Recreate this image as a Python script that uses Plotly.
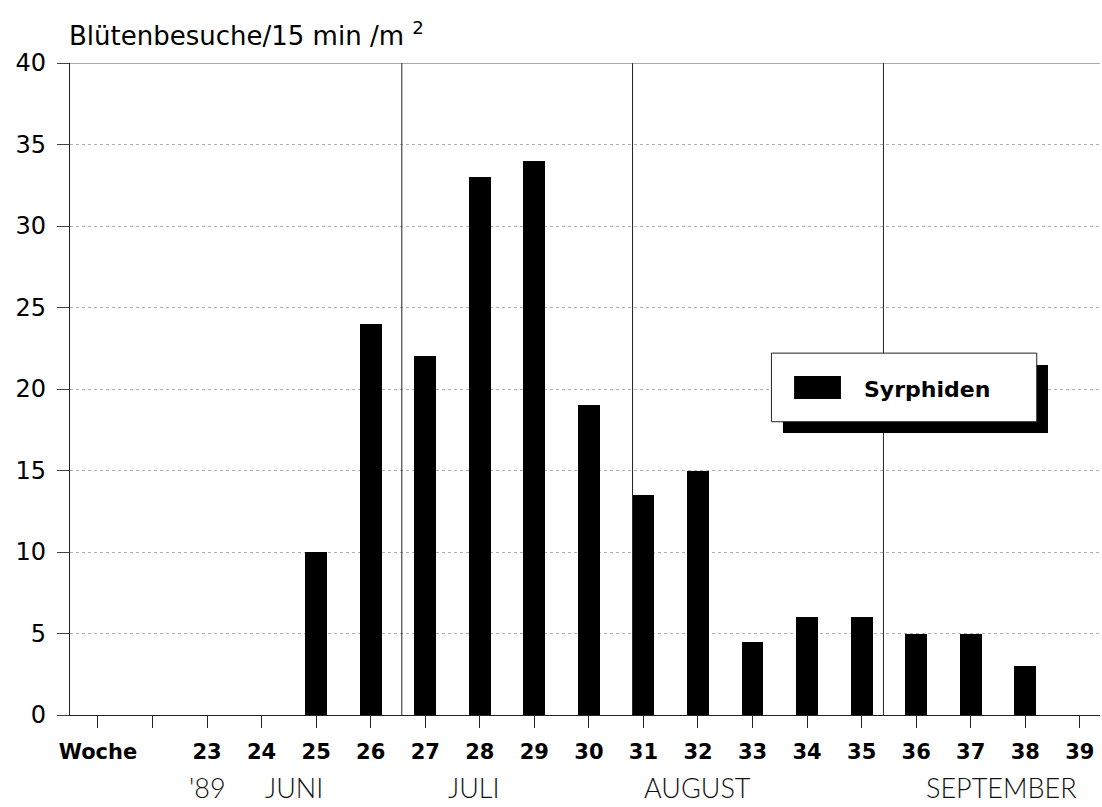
import plotly.graph_objects as go

# --- data ---
weeks = [25, 26, 27, 28, 29, 30, 31, 32, 33, 34, 35, 36, 37, 38]
syrphiden = [10, 24, 22, 33, 34, 19, 13.5, 15, 4.5, 6, 6, 5, 5, 3]
label_weeks = [21] + list(range(23, 40))
tick_labels = ["Woche"] + [str(w) for w in range(23, 40)]
month_bounds = [26.57, 30.8, 35.4]          # 1. Juli, 1. August, 1. September
month_names = ["'89", "JUNI", "JULI", "AUGUST", "SEPTEMBER"]
month_pos = [23.0, 24.6, 27.9, 32.0, 37.57]
y_ticks = list(range(0, 45, 5))

FONT = "DejaVu Sans"

fig = go.Figure()
fig.add_trace(go.Bar(
    x=weeks, y=syrphiden, width=0.4, name="Syrphiden",
    marker=dict(color="black", line=dict(width=0)),
    showlegend=False,
))

shapes = []
for b in month_bounds:
    shapes.append(dict(type="line", xref="x", yref="paper", x0=b, x1=b, y0=0, y1=1,
                       line=dict(color="#222", width=1)))
# top line at 40
shapes.append(dict(type="line", xref="paper", yref="y", x0=0, x1=1, y0=40, y1=40,
                   line=dict(color="#555", width=1.2)))
# legend shadow + box + sample
shapes.append(dict(type="rect", xref="paper", yref="paper", x0=0.6922, x1=0.9495,
                   y0=0.4325, y1=0.5368, fillcolor="black", line=dict(width=0)))
shapes.append(dict(type="rect", xref="paper", yref="paper", x0=0.681, x1=0.9386,
                   y0=0.4498, y1=0.555, fillcolor="white", line=dict(color="#222", width=1)))
shapes.append(dict(type="rect", xref="paper", yref="paper", x0=0.703, x1=0.7485,
                   y0=0.4847, y1=0.52, fillcolor="black", line=dict(width=0)))

annotations = [
    dict(text="Blütenbesuche/15 min /m <sup>2</sup>", xref="paper", yref="paper",
         x=-0.003, y=1.044, xanchor="left", yanchor="middle", showarrow=False,
         font=dict(family=FONT, size=26, color="black")),
    dict(text="Syrphiden", xref="paper", yref="paper", x=0.769, y=0.4985,
         xanchor="left", yanchor="middle", showarrow=False,
         font=dict(family=FONT, size=22, color="black", weight="bold")),
]
for name, pos in zip(month_names, month_pos):
    annotations.append(dict(text=name, xref="x", yref="paper", x=pos, y=-0.111,
                            xanchor="center", yanchor="middle", showarrow=False,
                            font=dict(family="Lato", size=27, color="#111", weight=300)))

fig.update_layout(
    width=1102, height=807,
    margin=dict(l=70, r=2, t=63, b=92),
    paper_bgcolor="white", plot_bgcolor="white",
    shapes=shapes, annotations=annotations,
    bargap=0,
    xaxis=dict(range=[20.487, 39.37], tickmode="array", tickvals=label_weeks,
               ticktext=tick_labels, ticks="outside", ticklen=12, tickcolor="#222",
               tickwidth=1, showline=True, linecolor="#222", linewidth=1.2,
               showgrid=False, zeroline=False, ticklabelstandoff=6,
               minor=dict(tickmode="array", tickvals=list(range(21, 40)),
                          ticks="outside", ticklen=12, tickcolor="#222", tickwidth=1,
                          showgrid=False),
               tickfont=dict(family=FONT, size=21, color="black", weight="bold")),
    yaxis=dict(range=[0, 40], tickmode="array", tickvals=y_ticks,
               ticks="outside", ticklen=12, tickcolor="#444", tickwidth=1,
               showline=True, linecolor="#222", linewidth=1.2,
               showgrid=True, gridcolor="#b0b0b0", gridwidth=1, griddash="dot",
               zeroline=False, ticklabelstandoff=6,
               tickfont=dict(family=FONT, size=24, color="black")),
)

fig.write_html("out.html", config={"displayModeBar": False},
               post_script="document.body.style.margin='0px';document.body.style.overflow='hidden';")
